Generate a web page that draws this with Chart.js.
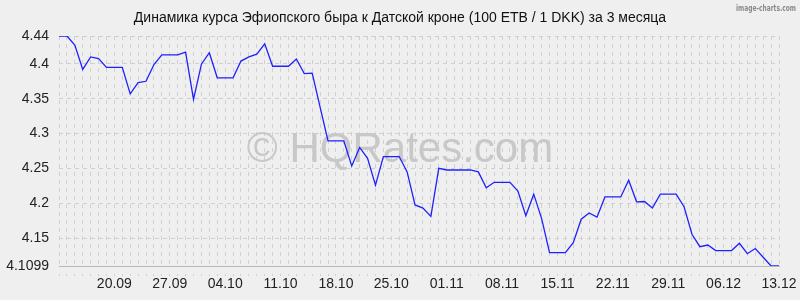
<!DOCTYPE html>
<html>
<head>
<meta charset="utf-8">
<script src="https://cdn.jsdelivr.net/npm/chart.js@4.4.0/dist/chart.umd.min.js"></script>
<style>
  html, body { margin: 0; padding: 0; background: #efefef; }
  canvas { display: block; }
</style>
</head>
<body>
<canvas id="chart" width="800" height="300"></canvas>
<script>
// ---- data ----
const titleText = 'Динамика курса Эфиопского быра к Датской кроне (100 ETB / 1 DKK) за 3 месяца';

// daily rates, 13.09 .. 13.12 (92 days)
const rates = [
  4.44, 4.44, 4.427, 4.392, 4.41, 4.4075, 4.395, 4.395, 4.395, 4.357,
  4.373, 4.375, 4.399, 4.413, 4.413, 4.413, 4.417, 4.349, 4.3995, 4.416,
  4.38, 4.38, 4.38, 4.404, 4.41, 4.414, 4.4287, 4.3966, 4.3966, 4.3966,
  4.407, 4.386, 4.3866, 4.338, 4.2894, 4.2894, 4.2894, 4.2535, 4.28, 4.2645,
  4.226, 4.267, 4.267, 4.267, 4.245, 4.1975, 4.193, 4.181, 4.25, 4.2477,
  4.2477, 4.2477, 4.2477, 4.245, 4.222, 4.23, 4.23, 4.23, 4.2176, 4.182,
  4.213, 4.178, 4.129, 4.129, 4.129, 4.1433, 4.177, 4.186, 4.18, 4.209,
  4.209, 4.209, 4.233, 4.202, 4.2025, 4.193, 4.213, 4.213, 4.213, 4.195,
  4.1555, 4.1376, 4.14, 4.132, 4.132, 4.132, 4.1425, 4.1275, 4.135, 4.1224,
  4.1099, 4.1099
];

const tickDates = ['20.09', '27.09', '04.10', '11.10', '18.10', '25.10', '01.11',
  '08.11', '15.11', '22.11', '29.11', '06.12', '13.12'];

const yTicks = [4.1099, 4.15, 4.2, 4.25, 4.3, 4.35, 4.4, 4.44];
const yMin = 4.1099;
const yMax = 4.44;

// category labels dd.mm, one per day
const dates = [];
for (let i = 0; i < rates.length; i++) {
  const d = new Date(2023, 8, 13 + i);
  dates.push(String(d.getDate()).padStart(2, '0') + '.' + String(d.getMonth() + 1).padStart(2, '0'));
}

// ---- chart ----
Chart.defaults.font.family = "'Liberation Sans', Arial, sans-serif";

const GRID = '#d0d0d0';

// title, watermark and credit text
const overlayText = {
  id: 'overlayText',
  beforeDatasetsDraw(chart) {
    const ctx = chart.ctx;
    ctx.save();
    ctx.font = "42px 'Liberation Sans', Arial, sans-serif";
    ctx.fillStyle = '#c8c8c8';
    ctx.textAlign = 'center';
    ctx.textBaseline = 'alphabetic';
    ctx.fillText('© HQRates.com', 400, 162);

    ctx.font = "14px 'Liberation Sans', Arial, sans-serif";
    ctx.fillStyle = '#111';
    ctx.textBaseline = 'middle';
    ctx.fillText(titleText, 400, 18);

    ctx.font = "bold 9px 'DejaVu Sans', sans-serif";
    ctx.fillStyle = '#8a8a8a';
    ctx.textAlign = 'right';
    ctx.textBaseline = 'alphabetic';
    ctx.fillText('image-charts.com', 796, 11, 60);
    ctx.restore();
  }
};

new Chart(document.getElementById('chart'), {
  type: 'line',
  data: {
    labels: dates,
    datasets: [{
      data: rates,
      borderColor: '#2020ff',
      borderWidth: 1.3,
      pointRadius: 0,
      tension: 0,
      fill: false,
    }]
  },
  options: {
    responsive: false,
    animation: false,
    layout: { padding: { top: 36, right: 21, bottom: 0, left: 0 } },
    plugins: {
      legend: { display: false },
      tooltip: { enabled: false },
    },
    scales: {
      x: {
        type: 'category',
        offset: false,
        grid: {
          color: GRID,
          drawTicks: true,
          tickLength: 10,
          tickColor: GRID,
          tickBorderDash: [0, 7, 3, 10],
        },
        border: { display: true, color: '#b8b8b8', width: 1, dash: [4, 4] },
        ticks: {
          autoSkip: false,
          maxRotation: 0,
          minRotation: 0,
          padding: 0,
          color: '#222',
          font: { size: 14 },
          callback: (v, i) => tickDates.includes(dates[i]) ? dates[i] : '',
        },
        afterFit: s => { s.height = 34; },
      },
      y: {
        min: yMin,
        max: yMax,
        grid: { color: GRID, drawTicks: false },
        border: { display: false, dash: [4, 4] },
        ticks: {
          padding: 10,
          color: '#222',
          font: { size: 14 },
          callback: v => String(v),
        },
        afterBuildTicks: s => { s.ticks = yTicks.map(v => ({ value: v })); },
        afterFit: s => { s.width = 59; },
      },
    },
  },
  plugins: [overlayText],
});
</script>
</body>
</html>
